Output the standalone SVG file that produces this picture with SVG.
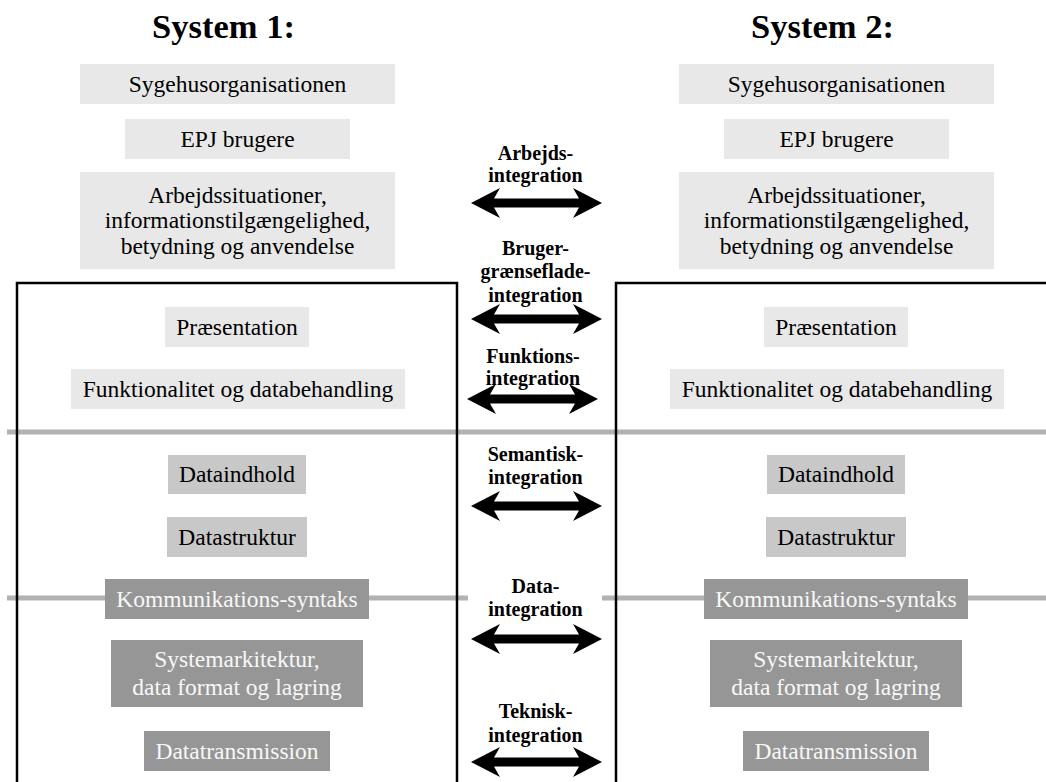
<svg xmlns="http://www.w3.org/2000/svg" xmlns:xlink="http://www.w3.org/1999/xlink" width="1046" height="782" viewBox="0 0 1046 782">
  <style>
    .title { font-family: "Liberation Serif", "Times New Roman", serif; font-weight: bold; font-size: 34.5px; fill: #000; text-anchor: middle; }
    .lbl { font-family: "Liberation Serif", "Times New Roman", serif; font-size: 23.5px; text-anchor: middle; }
    .dark { fill: #000; }
    .light { fill: #f8f8f8; }
    .b1 { fill: #e8e8e8; }
    .b2 { fill: #c8c8c8; }
    .b3 { fill: #969696; }
    .ilbl { font-family: "Liberation Serif", "Times New Roman", serif; font-weight: bold; font-size: 20px; fill: #000; text-anchor: middle; }
    .frame { fill: none; stroke: #000; stroke-width: 2.5; }
    .sep { stroke: #b2b2b2; stroke-width: 5; }
  </style>
  <defs>
    <!-- bold double-headed arrow, centred on the origin -->
    <path id="dbl" d="M-65.5,0 L-36.5,-15 L-42.5,-4.5 L42.5,-4.5 L36.5,-15 L65.5,0 L36.5,15 L42.5,4.5 L-42.5,4.5 L-36.5,15 Z" fill="#000"/>
  </defs>
  <rect width="1046" height="782" fill="#fff"/>

  <!-- layer separators -->
  <g id="separators">
    <line class="sep" x1="7" y1="432" x2="1046" y2="432"/>
    <line class="sep" x1="7" y1="598" x2="468" y2="598"/>
    <line class="sep" x1="602" y1="598" x2="1046" y2="598"/>
  </g>

  <!-- system frames -->
  <g id="frames">
    <path class="frame" d="M17,784 V283 H457 V784"/>
    <path class="frame" d="M616,784 V283 H1050"/>
  </g>

  <!-- System 1 -->
  <text id="title1" class="title" x="223.5" y="38">System 1:</text>
  <g id="s1-sygehus"><rect class="b1" x="80" y="64" width="315" height="40"/><text class="lbl dark" x="237.5" y="91.7">Sygehusorganisationen</text></g>
  <g id="s1-epj"><rect class="b1" x="125" y="119" width="225" height="40"/><text class="lbl dark" x="237.5" y="146.8">EPJ brugere</text></g>
  <g id="s1-arbejd"><rect class="b1" x="80" y="172" width="315" height="97"/><text class="lbl dark" x="237.5" y="202.5">Arbejdssituationer,</text><text class="lbl dark" x="237.5" y="228">informationstilgængelighed,</text><text class="lbl dark" x="237.5" y="253.5">betydning og anvendelse</text></g>
  <g id="s1-praes"><rect class="b1" x="165" y="307" width="144" height="40"/><text class="lbl dark" x="237" y="334.8">Præsentation</text></g>
  <g id="s1-funk"><rect class="b1" x="71" y="369" width="334" height="40"/><text class="lbl dark" x="238" y="396.8">Funktionalitet og databehandling</text></g>
  <g id="s1-dataind"><rect class="b2" x="168" y="455" width="138" height="39"/><text class="lbl dark" x="237" y="482.3">Dataindhold</text></g>
  <g id="s1-datastr"><rect class="b2" x="167" y="517" width="140" height="40"/><text class="lbl dark" x="237" y="544.8">Datastruktur</text></g>
  <g id="s1-komm"><rect class="b3" x="105" y="579" width="264" height="40"/><text class="lbl light" x="237" y="606.8">Kommunikations-syntaks</text></g>
  <g id="s1-sysark"><rect class="b3" x="111" y="640" width="252" height="67"/><text class="lbl light" x="237" y="667">Systemarkitektur,</text><text class="lbl light" x="237" y="695">data format og lagring</text></g>
  <g id="s1-trans"><rect class="b3" x="144" y="731" width="186" height="40"/><text class="lbl light" x="237" y="758.8">Datatransmission</text></g>

  <!-- System 2 -->
  <text id="title2" class="title" x="822.5" y="38">System 2:</text>
  <g id="s2-sygehus"><rect class="b1" x="679" y="64" width="315" height="40"/><text class="lbl dark" x="836.5" y="91.7">Sygehusorganisationen</text></g>
  <g id="s2-epj"><rect class="b1" x="724" y="119" width="225" height="40"/><text class="lbl dark" x="836.5" y="146.8">EPJ brugere</text></g>
  <g id="s2-arbejd"><rect class="b1" x="679" y="172" width="315" height="97"/><text class="lbl dark" x="836.5" y="202.5">Arbejdssituationer,</text><text class="lbl dark" x="836.5" y="228">informationstilgængelighed,</text><text class="lbl dark" x="836.5" y="253.5">betydning og anvendelse</text></g>
  <g id="s2-praes"><rect class="b1" x="764" y="307" width="144" height="40"/><text class="lbl dark" x="836" y="334.8">Præsentation</text></g>
  <g id="s2-funk"><rect class="b1" x="670" y="369" width="334" height="40"/><text class="lbl dark" x="837" y="396.8">Funktionalitet og databehandling</text></g>
  <g id="s2-dataind"><rect class="b2" x="767" y="455" width="138" height="39"/><text class="lbl dark" x="836" y="482.3">Dataindhold</text></g>
  <g id="s2-datastr"><rect class="b2" x="766" y="517" width="140" height="40"/><text class="lbl dark" x="836" y="544.8">Datastruktur</text></g>
  <g id="s2-komm"><rect class="b3" x="704" y="579" width="264" height="40"/><text class="lbl light" x="836" y="606.8">Kommunikations-syntaks</text></g>
  <g id="s2-sysark"><rect class="b3" x="710" y="640" width="252" height="67"/><text class="lbl light" x="836" y="667">Systemarkitektur,</text><text class="lbl light" x="836" y="695">data format og lagring</text></g>
  <g id="s2-trans"><rect class="b3" x="743" y="731" width="186" height="40"/><text class="lbl light" x="836" y="758.8">Datatransmission</text></g>

  <!-- integration levels -->
  <g id="connectors">
    <text class="ilbl" x="535.5" y="160">Arbejds-</text>
    <text class="ilbl" x="535.5" y="182">integration</text>
    <use xlink:href="#dbl" href="#dbl" transform="translate(536.5,203)"/>

    <text class="ilbl" x="535.5" y="255">Bruger-</text>
    <text class="ilbl" x="535.5" y="278">grænseflade-</text>
    <text class="ilbl" x="535.5" y="302">integration</text>
    <use xlink:href="#dbl" href="#dbl" transform="translate(536.5,319)"/>

    <text class="ilbl" x="533" y="363">Funktions-</text>
    <text class="ilbl" x="533" y="385">integration</text>
    <use xlink:href="#dbl" href="#dbl" transform="translate(532.5,399)"/>

    <text class="ilbl" x="535.5" y="461">Semantisk-</text>
    <text class="ilbl" x="535.5" y="484">integration</text>
    <use xlink:href="#dbl" href="#dbl" transform="translate(536.5,506)"/>

    <text class="ilbl" x="535.5" y="593">Data-</text>
    <text class="ilbl" x="535.5" y="616">integration</text>
    <use xlink:href="#dbl" href="#dbl" transform="translate(536.5,639)"/>

    <text class="ilbl" x="535.5" y="718">Teknisk-</text>
    <text class="ilbl" x="535.5" y="742">integration</text>
    <use xlink:href="#dbl" href="#dbl" transform="translate(536.5,762)"/>
  </g>
</svg>
